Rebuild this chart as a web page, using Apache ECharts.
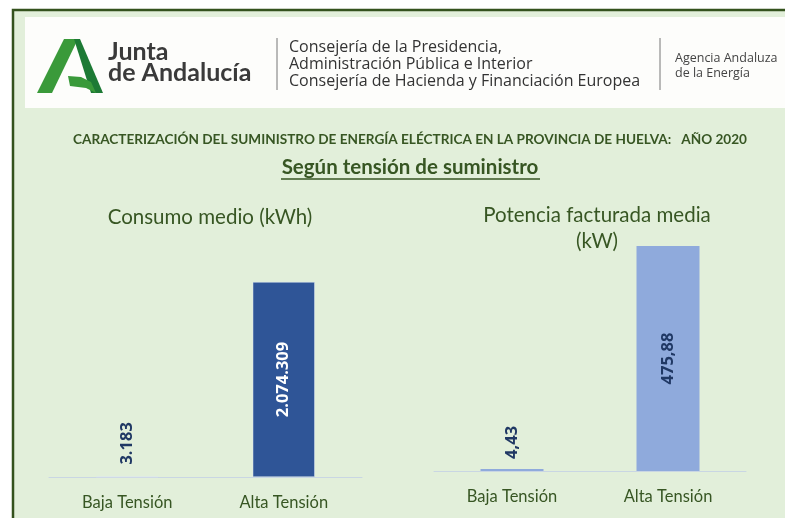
<!DOCTYPE html>
<html>
<head>
<meta charset="utf-8">
<script src="https://cdn.jsdelivr.net/npm/echarts@6/dist/echarts.min.js"></script>
<style>
    html,body{margin:0;padding:0;background:#fff;}
    #main{width:785px;height:518px;}
</style>
</head>
<body>
<div id="main"></div>
<script>
//--------------------数据---------------------------
var categories = ['Baja Tensión', 'Alta Tensión'];
var consumoMedio = [3183, 2074309];          // kWh
var potenciaMedia = [4.43, 475.88];          // kW
var consumoLabels = ['3.183', '2.074.309'];
var potenciaLabels = ['4,43', '475,88'];
//--------------------数据---------------------------

var green = '#375623';
var font = 'Lato, "Open Sans", sans-serif';
var headFont = '"Open Sans", Lato, sans-serif';

var myChart = echarts.init(document.getElementById('main'));

option = {
    backgroundColor: '#ffffff',
    textStyle: { fontFamily: font },
    title: [
        {
            text: 'Consumo medio (kWh)',
            left: 205, top: 202, textAlign: 'center',
            textStyle: { fontFamily: font, fontSize: 20.5, fontWeight: 'normal', color: green }
        },
        {
            text: 'Potencia facturada media\n(kW)',
            left: 592, top: 197, textAlign: 'center',
            textStyle: { fontFamily: font, fontSize: 20.5, fontWeight: 'normal', color: green, lineHeight: 26 }
        }
    ],
    graphic: [
        // marco
        { type: 'rect', z: -10, shape: { x: 13, y: 10, width: 800, height: 530 },
          style: { fill: '#E2EFDA', stroke: '#34521D', lineWidth: 2.5 } },
        { type: 'rect', z: -9, shape: { x: 25, y: 17, width: 780, height: 91 },
          style: { fill: '#FDFDFB' } },
        // logo
        { type: 'polygon', shape: { points: [[64,39],[78,39],[52,93],[37,93]] }, style: { fill: '#3A9A3A' } },
        { type: 'polygon', shape: { points: [[74,39],[80,39],[103,93],[91,93]] }, style: { fill: '#1D7A35' } },
        { type: 'polygon', shape: { points: [[68,76],[81,77],[91,82],[96,93],[86,88],[70,86]] }, style: { fill: '#3A9A3A' } },
        { type: 'text', style: { x: 108, y: 52, text: 'Junta', font: 'bold 25px ' + font, fill: '#3a3a3a', verticalAlign: 'middle' } },
        { type: 'text', style: { x: 108, y: 73, text: 'de Andalucía', font: 'bold 25px ' + font, fill: '#3a3a3a', verticalAlign: 'middle' } },
        { type: 'line', shape: { x1: 277, y1: 38, x2: 277, y2: 90 }, style: { stroke: '#777', lineWidth: 1 } },
        { type: 'text', style: { x: 289, y: 47, text: 'Consejería de la Presidencia,', font: '16px ' + headFont, fill: '#333', verticalAlign: 'middle' } },
        { type: 'text', style: { x: 289, y: 64, text: 'Administración Pública e Interior', font: '16px ' + headFont, fill: '#333', verticalAlign: 'middle' } },
        { type: 'text', style: { x: 289, y: 81, text: 'Consejería de Hacienda y Financiación Europea', font: '16px ' + headFont, fill: '#333', verticalAlign: 'middle' } },
        { type: 'line', shape: { x1: 660, y1: 38, x2: 660, y2: 90 }, style: { stroke: '#777', lineWidth: 1 } },
        { type: 'text', style: { x: 675, y: 58, text: 'Agencia Andaluza', font: '12.5px ' + headFont, fill: '#444', verticalAlign: 'middle' } },
        { type: 'text', style: { x: 675, y: 73, text: 'de la Energía', font: '12.5px ' + headFont, fill: '#444', verticalAlign: 'middle' } },
        // titulos
        { type: 'text', style: { x: 410, y: 140, text: 'CARACTERIZACIÓN DEL SUMINISTRO DE ENERGÍA ELÉCTRICA EN LA PROVINCIA DE HUELVA:   AÑO 2020',
          font: 'bold 13.6px ' + font, fill: green, align: 'center', verticalAlign: 'middle' } },
        { type: 'text', style: { x: 410, y: 167, text: 'Según tensión de suministro',
          font: 'bold 20.5px ' + font, fill: green, align: 'center', verticalAlign: 'middle' } },
        { type: 'line', shape: { x1: 281, y1: 179, x2: 540, y2: 179 }, style: { stroke: green, lineWidth: 1.5 } }
    ],
    grid: [
        { left: 49, width: 313, top: 282, height: 195 },
        { left: 434, width: 312, top: 246, height: 225 }
    ],
    xAxis: [
        {
            type: 'category', gridIndex: 0, data: categories,
            axisLine: { lineStyle: { color: '#C9D6E3', width: 1 } },
            axisTick: { show: false },
            axisLabel: { color: green, fontSize: 16.5, margin: 17, fontFamily: font }
        },
        {
            type: 'category', gridIndex: 1, data: categories,
            axisLine: { lineStyle: { color: '#C9D6E3', width: 1 } },
            axisTick: { show: false },
            axisLabel: { color: green, fontSize: 16.5, margin: 17, fontFamily: font }
        }
    ],
    yAxis: [
        { type: 'value', gridIndex: 0, min: 0, max: 'dataMax', show: false, splitLine: { show: false } },
        { type: 'value', gridIndex: 1, min: 0, max: 'dataMax', show: false, splitLine: { show: false } }
    ],
    series: [
        {
            name: 'Consumo medio (kWh)',
            type: 'bar', xAxisIndex: 0, yAxisIndex: 0,
            barWidth: 62,
            data: [
                { value: consumoMedio[0], label: { position: 'top', distance: 12, color: '#203864', align: 'left' } },
                { value: consumoMedio[1], label: { position: 'inside', color: '#ffffff', align: 'center' } }
            ],
            itemStyle: { color: '#2F5597', borderColor: '#DCE6F2', borderWidth: 0.5 },
            label: {
                show: true, rotate: 90, verticalAlign: 'middle',
                fontSize: 16.5, fontWeight: 'bold', fontFamily: headFont,
                formatter: function (p) { return consumoLabels[p.dataIndex]; }
            }
        },
        {
            name: 'Potencia facturada media (kW)',
            type: 'bar', xAxisIndex: 1, yAxisIndex: 1,
            barWidth: 63,
            data: [
                { value: potenciaMedia[0], label: { position: 'top', distance: 10, align: 'left' } },
                { value: potenciaMedia[1], label: { position: 'inside', align: 'center' } }
            ],
            itemStyle: { color: '#8FAADC' },
            label: {
                show: true, rotate: 90, verticalAlign: 'middle', color: '#203864',
                fontSize: 16.5, fontWeight: 'bold', fontFamily: headFont,
                formatter: function (p) { return potenciaLabels[p.dataIndex]; }
            }
        }
    ]
};

myChart.setOption(option);
</script>
</body>
</html>
